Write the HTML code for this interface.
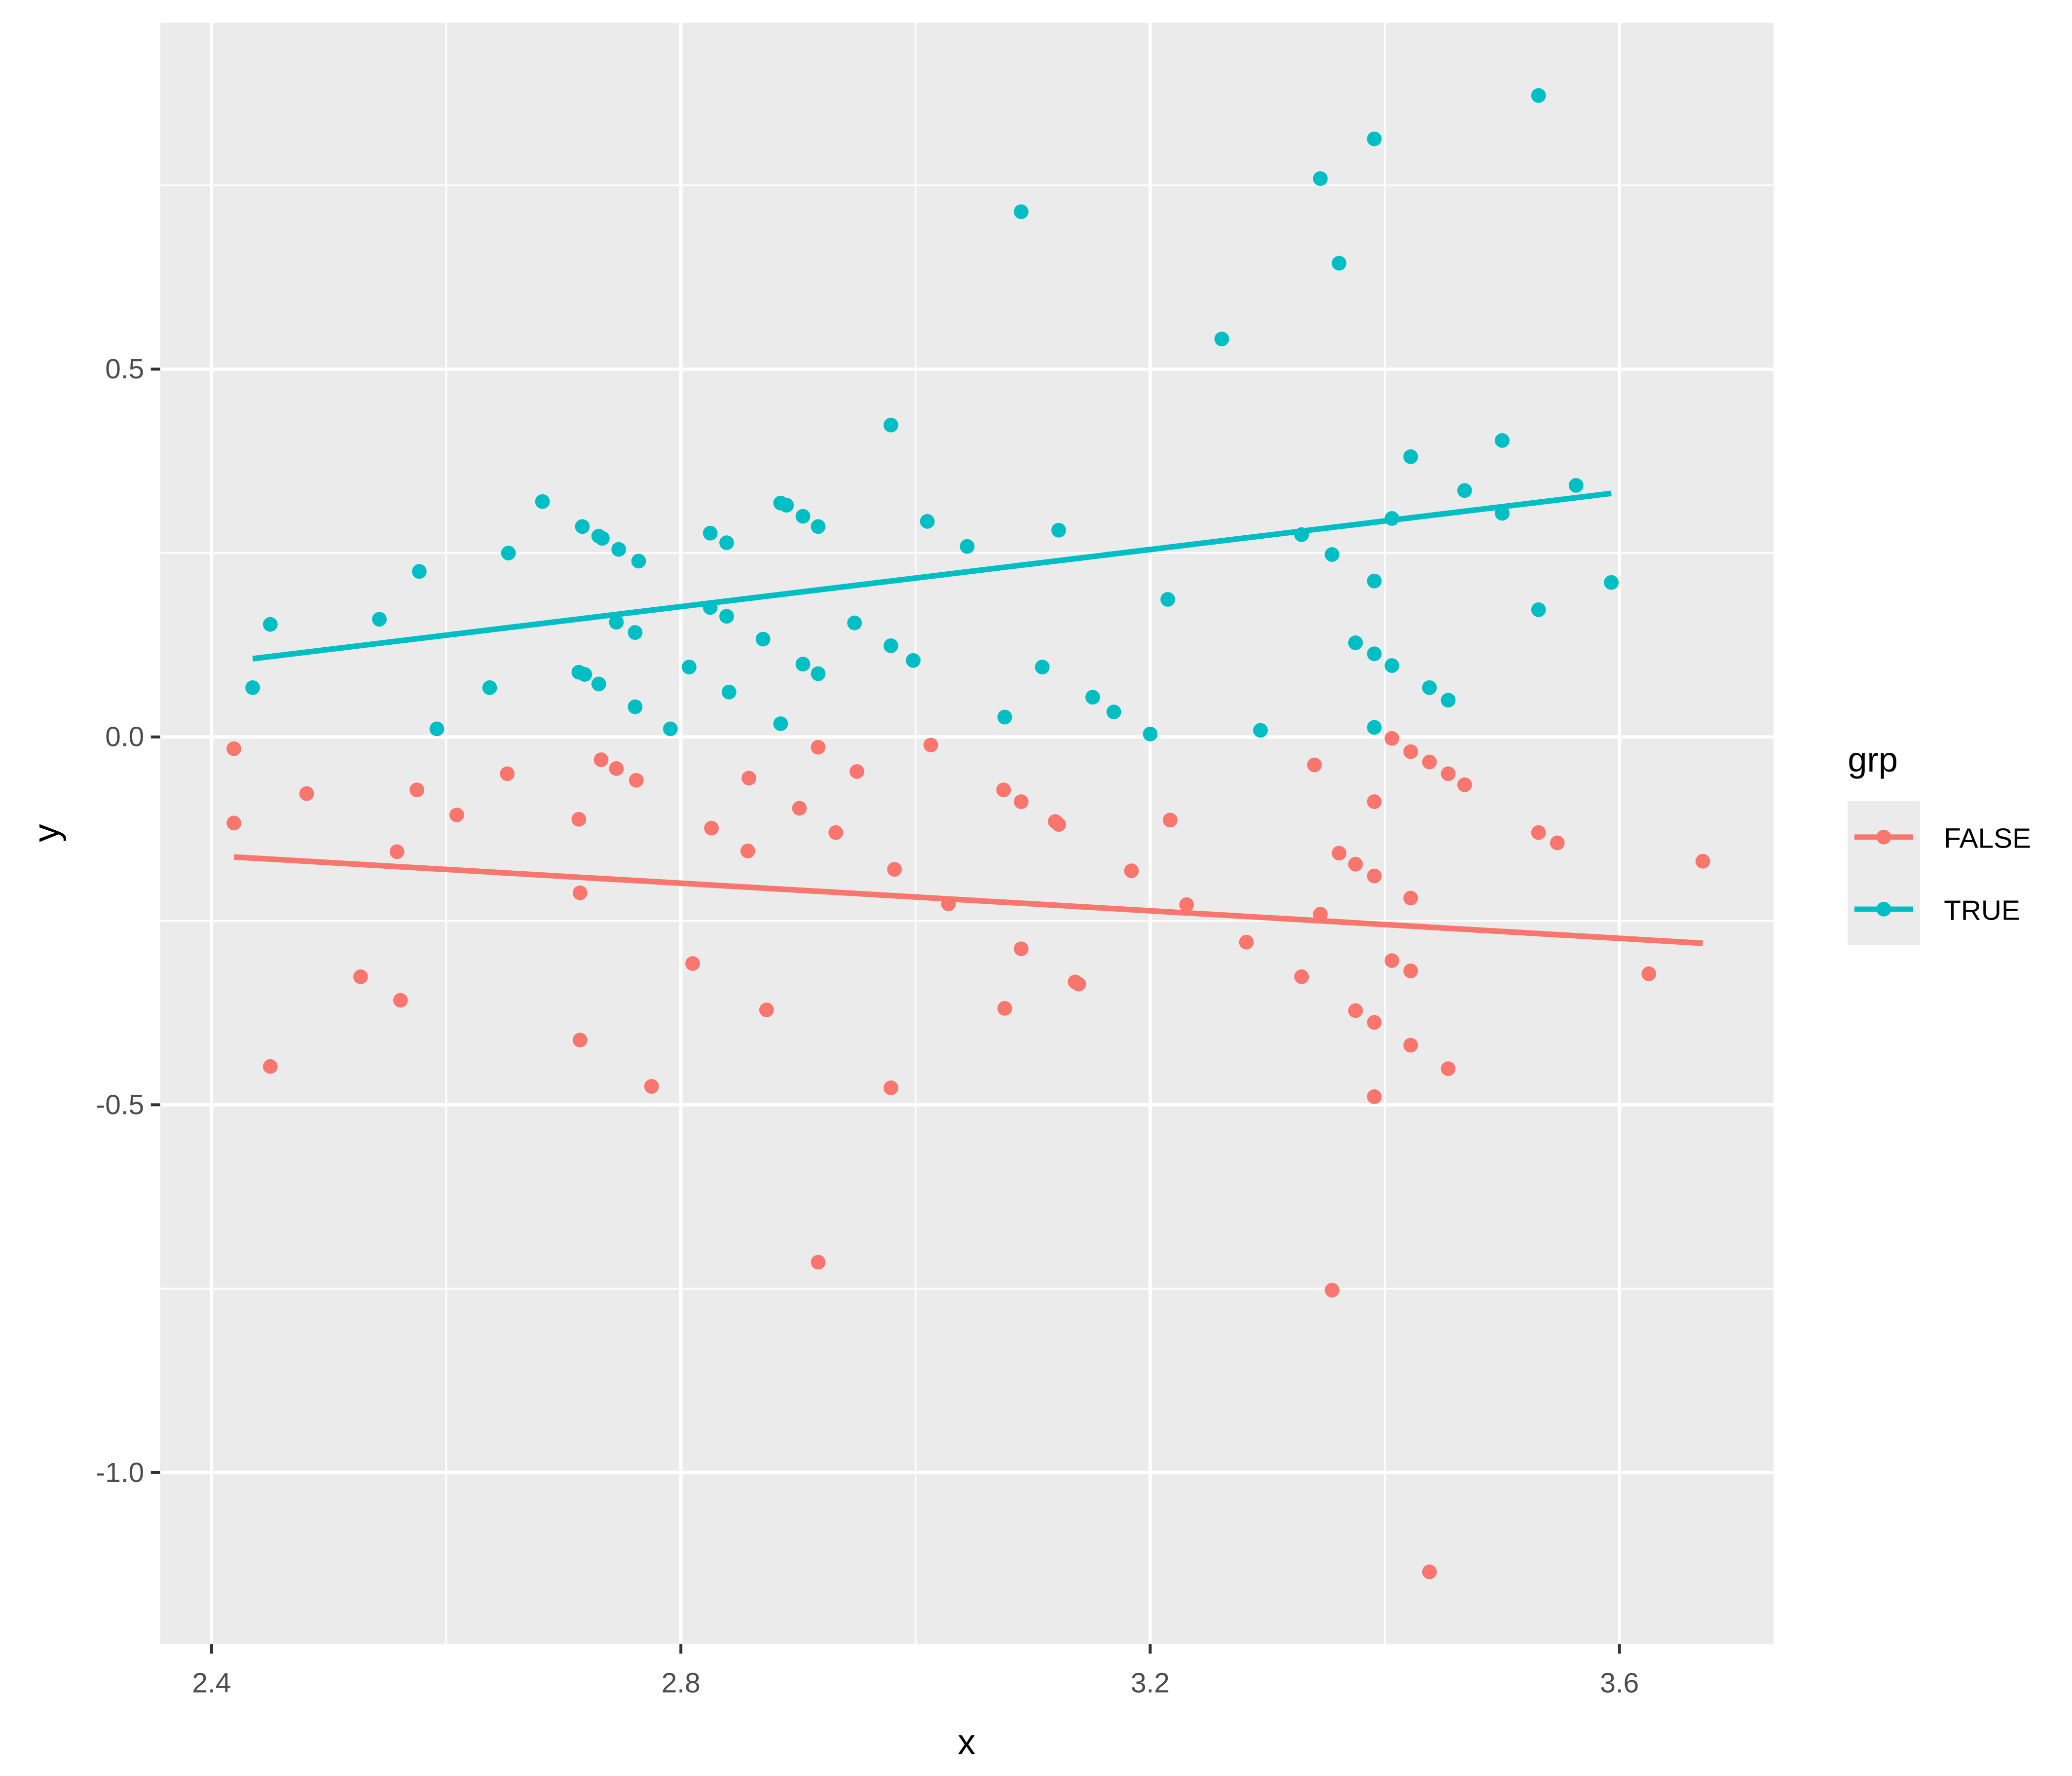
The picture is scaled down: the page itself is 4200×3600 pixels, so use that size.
<!DOCTYPE html>
<html><head><meta charset="utf-8"><style>
html,body{margin:0;padding:0;background:#fff;}
svg{display:block;font-family:"Liberation Sans","DejaVu Sans",sans-serif;}
</style></head><body>
<svg id="chart" width="4200" height="3600" viewBox="0 0 1552 1330.3" preserveAspectRatio="none" xmlns="http://www.w3.org/2000/svg">
<rect x="0" y="0" width="1560" height="1331" fill="#fff"/>
<rect x="120" y="17" width="1208.5" height="1214.6" fill="#ebebeb"/>
<g id="grid"></g>
<g id="lines"></g>
<g id="points"></g>
<g id="axes"></g>
<text x="724" y="1314" font-size="27" text-anchor="middle" fill="#000">x</text>
<text x="0" y="0" font-size="27" text-anchor="middle" fill="#000" transform="translate(44,624) rotate(-90)">y</text>
<g>
<text x="1384" y="578" font-size="26" fill="#000">grp</text>
<rect x="1384" y="600" width="54" height="54" fill="#ebebeb"/>
<rect x="1384" y="654" width="54" height="54" fill="#ebebeb"/>
<g>
<line x1="1389" y1="627" x2="1433" y2="627" stroke="#f8766d" stroke-width="4"/>
<circle cx="1411" cy="627" r="5.5" fill="#f8766d"/>
<text x="1456" y="635" font-size="21" fill="#000">FALSE</text></g>
<g>
<line x1="1389" y1="681" x2="1433" y2="681" stroke="#00bfc4" stroke-width="4"/>
<circle cx="1411" cy="681" r="5.5" fill="#00bfc4"/>
<text x="1456" y="689" font-size="21" fill="#000">TRUE</text></g>
</g>
</svg>
<script>
const xTrue=[2.435,2.450,2.543,2.577,2.592,2.637,2.653,2.682,2.716,2.730,2.733,2.747,2.764,2.713,2.718,2.730,2.745,2.761,2.761,2.791,2.807,2.825,2.839,2.825,2.839,2.841,2.870,2.885,2.890,2.904,2.917,2.885,2.904,2.917,2.948,2.979,2.979,2.998,3.010,3.044,3.076,3.090,3.108,3.122,3.151,3.169,3.200,3.215,3.261,3.294,3.329,3.345,3.355,3.361,3.375,3.391,3.391,3.391,3.391,3.406,3.406,3.422,3.438,3.454,3.468,3.500,3.500,3.531,3.531,3.563,3.593];
const yTrue=[0.067,0.153,0.160,0.225,0.011,0.067,0.250,0.320,0.286,0.273,0.270,0.255,0.239,0.088,0.085,0.072,0.156,0.142,0.041,0.011,0.095,0.277,0.264,0.176,0.164,0.061,0.133,0.318,0.315,0.300,0.286,0.018,0.099,0.086,0.155,0.424,0.124,0.104,0.293,0.259,0.027,0.714,0.095,0.281,0.054,0.034,0.004,0.187,0.541,0.009,0.275,0.759,0.248,0.644,0.128,0.813,0.212,0.113,0.013,0.297,0.097,0.381,0.067,0.050,0.335,0.403,0.304,0.872,0.173,0.342,0.210];
const xFalse=[2.419,2.419,2.450,2.481,2.527,2.558,2.561,2.575,2.609,2.652,2.713,2.714,2.714,2.732,2.745,2.762,2.775,2.810,2.826,2.858,2.857,2.873,2.901,2.917,2.917,2.932,2.950,2.979,2.982,3.013,3.028,3.075,3.076,3.090,3.090,3.119,3.122,3.136,3.139,3.184,3.217,3.231,3.282,3.329,3.340,3.345,3.355,3.361,3.375,3.375,3.391,3.391,3.391,3.391,3.406,3.406,3.422,3.422,3.422,3.422,3.438,3.438,3.454,3.454,3.468,3.531,3.547,3.625,3.671];
const yFalse=[-0.016,-0.117,-0.448,-0.077,-0.326,-0.156,-0.358,-0.072,-0.106,-0.050,-0.112,-0.212,-0.412,-0.031,-0.043,-0.059,-0.475,-0.308,-0.124,-0.056,-0.155,-0.371,-0.097,-0.014,-0.714,-0.130,-0.047,-0.477,-0.180,-0.011,-0.227,-0.072,-0.369,-0.088,-0.288,-0.115,-0.119,-0.333,-0.336,-0.182,-0.113,-0.228,-0.279,-0.326,-0.038,-0.241,-0.752,-0.158,-0.173,-0.372,-0.088,-0.189,-0.388,-0.489,-0.002,-0.304,-0.020,-0.219,-0.318,-0.419,-0.034,-1.135,-0.050,-0.451,-0.065,-0.130,-0.144,-0.322,-0.169];
const xTicks=[2.4,2.8,3.2,3.6];
const xTickLabels=["2.4","2.8","3.2","3.6"];
const xMinor=[2.6,3.0,3.4];
const yTicks=[0.5,0,-0.5,-1.0];
const yTickLabels=["0.5","0.0","-0.5","-1.0"];
const yMinor=[0.75,0.25,-0.25,-0.75];

const NS="http://www.w3.org/2000/svg";
const PL=120,PR=1328.5,PT=17,PB=1231.6;
const X=v=>158.5+(v-2.4)*878.8;
const Y=v=>552-v*551;
function mk(tag,attrs,parent){const e=document.createElementNS(NS,tag);for(const k in attrs)e.setAttribute(k,attrs[k]);parent.appendChild(e);return e;}
const grid=document.getElementById('grid'),axes=document.getElementById('axes'),pts=document.getElementById('points'),lines=document.getElementById('lines');
xMinor.forEach(v=>{const l=mk('line',{x1:X(v),x2:X(v),y1:PT,y2:PB,stroke:'#fff','stroke-width':1.2},grid);

});
yMinor.forEach(v=>{const l=mk('line',{x1:PL,x2:PR,y1:Y(v),y2:Y(v),stroke:'#fff','stroke-width':1.2},grid);

});
xTicks.forEach((v,i)=>{const l=mk('line',{x1:X(v),x2:X(v),y1:PT,y2:PB,stroke:'#fff','stroke-width':2.4},grid);


const t=mk('line',{x1:X(v),x2:X(v),y1:PB,y2:PB+7,stroke:'#333','stroke-width':2.2},axes);


const tx=mk('text',{x:X(v),y:PB+36,'font-size':21,'text-anchor':'middle',fill:'#4d4d4d'},axes);tx.textContent=xTickLabels[i];

});
yTicks.forEach((v,i)=>{const l=mk('line',{x1:PL,x2:PR,y1:Y(v),y2:Y(v),stroke:'#fff','stroke-width':2.4},grid);


const t=mk('line',{x1:PL-7,x2:PL,y1:Y(v),y2:Y(v),stroke:'#333','stroke-width':2.2},axes);


const tx=mk('text',{x:PL-12,y:Y(v)+7,'font-size':21,'text-anchor':'end',fill:'#4d4d4d'},axes);tx.textContent=yTickLabels[i];

});
function fit(xs,ys){const n=xs.length;let mx=0,my=0;for(let i=0;i<n;i++){mx+=xs[i];my+=ys[i];}mx/=n;my/=n;let sxy=0,sxx=0;for(let i=0;i<n;i++){sxy+=(xs[i]-mx)*(ys[i]-my);sxx+=(xs[i]-mx)**2;}const b=sxy/sxx;return [my-b*mx,b];}
function series(xs,ys,col,name){
 xs.forEach((x,i)=>{const c=mk('circle',{cx:X(x),cy:Y(ys[i]),r:5.5,fill:col},pts);
 
 });
 const [a,b]=fit(xs,ys);const x0=Math.min(...xs),x1=Math.max(...xs);
 const l=mk('line',{x1:X(x0),y1:Y(a+b*x0),x2:X(x1),y2:Y(a+b*x1),stroke:col,'stroke-width':4.2},lines);
 
 
}
series(xFalse,yFalse,'#f8766d','false');
series(xTrue,yTrue,'#00bfc4','true');
</script>
</body></html>
